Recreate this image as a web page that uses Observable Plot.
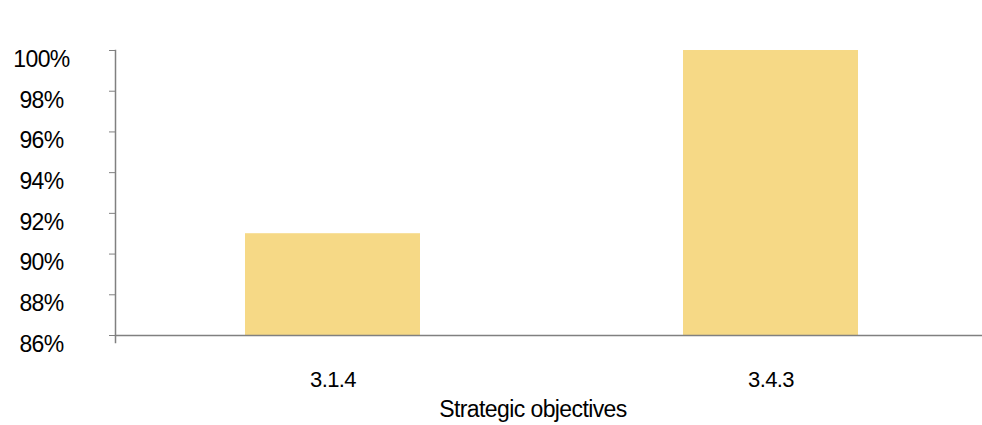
<!DOCTYPE html>
<html>
<head>
<meta charset="utf-8">
<script src="https://cdn.jsdelivr.net/npm/d3@7"></script>
<script src="https://cdn.jsdelivr.net/npm/@observablehq/plot@0.6"></script>
<style>
  html, body { margin: 0; padding: 0; background: #fff; }
  #chart { width: 982px; height: 425px; }
</style>
</head>
<body>
<div id="chart"></div>
<script>
// Share of targets achieved per strategic objective
const objectives = ["3.1.4", "3.4.3"];
const achieved = [91, 100];
const yTicks = [86, 88, 90, 92, 94, 96, 98, 100];
const xTitle = "Strategic objectives";

const rows = objectives.map((o, i) => ({objective: o, value: achieved[i]}));

const axisColor = "#808080";
const font = "'Liberation Sans', Arial, sans-serif";

const chart = Plot.plot({
  width: 982,
  height: 425,
  marginTop: 50,
  marginBottom: 90,
  marginLeft: 115,
  marginRight: 0,
  // slightly tight tracking for a narrower label face
  style: {fontFamily: font, color: "#000", background: "#fff", letterSpacing: "-0.6px"},
  x: {domain: objectives, range: [114, 990], paddingInner: 0.6, paddingOuter: 0.3},
  y: {domain: [86, 100]},
  marks: [
    Plot.barY(rows, {x: "objective", y1: 86, y2: "value", fill: "#f6d986"}),
    // axis lines; the value axis runs a few pixels past the corner
    Plot.frame({anchor: "left", stroke: axisColor, strokeWidth: 1.5, insetBottom: -7}),
    Plot.frame({anchor: "bottom", stroke: axisColor, strokeWidth: 1.5}),
    // outward tick marks on the value axis
    Plot.axisY(yTicks, {
      tickSize: 6,
      stroke: axisColor,
      tickFormat: () => "",
      label: null
    }),
    // percentage labels, centred in the left margin and set slightly below their ticks
    Plot.axisY(yTicks, {
      tickSize: 0,
      tickPadding: 74,
      textAnchor: "middle",
      dy: 9,
      fontSize: 23,
      fill: "#000",
      tickFormat: d => d + "%",
      label: null
    }),
    Plot.axisX({
      tickSize: 0,
      tickPadding: 36,
      fontSize: 22,
      fill: "#000",
      label: null
    }),
    Plot.text([xTitle], {
      frameAnchor: "bottom",
      dx: -16,
      dy: 81,
      fontSize: 23,
      fill: "#000"
    })
  ]
});

document.getElementById("chart").appendChild(chart);
</script>
</body>
</html>
